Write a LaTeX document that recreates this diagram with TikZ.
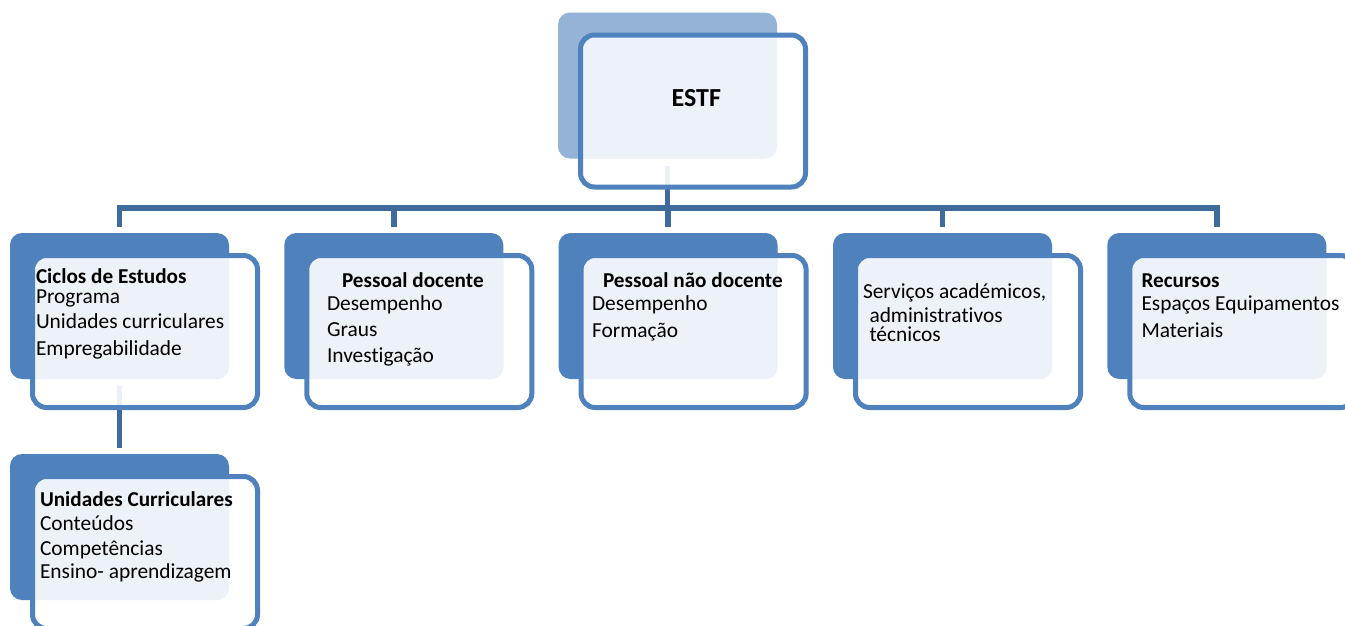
\documentclass[tikz,border=0pt]{standalone}
\usepackage{fontspec}
\setmainfont{Carlito}[Ligatures=NoCommon]
\definecolor{backblue}{HTML}{4F81BD}
\definecolor{topblue}{HTML}{95B3D7}
\definecolor{lightfill}{HTML}{EDF2F9}
\definecolor{linkblue}{HTML}{3F6A9C}
\begin{document}
\begin{tikzpicture}[x=1pt,y=-1pt,
  backbox/.style={rectangle, rounded corners=12pt, minimum width=219pt, minimum height=146pt, inner sep=0pt, outer sep=0pt, draw=none},
  frontbox/.style={rectangle, rounded corners=14pt, minimum width=225pt, minimum height=152pt, inner sep=0pt, outer sep=0pt},
  link/.style={draw=linkblue, line width=5.5pt, line join=miter},
  txt/.style={anchor=base west, inner sep=0pt, outer sep=0pt, font=\fontsize{21.4}{25}\selectfont},
  bold/.style={txt, font=\fontsize{21.2}{25}\selectfont\bfseries}
]
\useasboundingbox (0,0) rectangle (1345,625);
\fill[white] (0,0) rectangle (1345,625);

% back boxes
\node[backbox, fill=topblue]  (b0) at (558+109.5, 12.5+73) {};
\node[backbox, fill=backblue] (b1) at (10+109.5, 233+73) {};
\node[backbox, fill=backblue] (b2) at (284.3+109.5, 233+73) {};
\node[backbox, fill=backblue] (b3) at (558.6+109.5, 233+73) {};
\node[backbox, fill=backblue] (b4) at (833+109.5, 233+73) {};
\node[backbox, fill=backblue] (b5) at (1107.3+109.5, 233+73) {};
\node[backbox, fill=backblue] (b6) at (10+109.5, 454+73) {};

% connectors (behind the front frames)
\coordinate (bus) at (668, 208);
\draw[link, shorten <=6pt, shorten >=6pt] (b1.north) |- (bus) -| (b5.north);
\draw[link, shorten >=6pt] (b2.north |- bus) -- (b2.north);
\draw[link, shorten >=6pt] (b3.north |- bus) -- (b3.north);
\draw[link, shorten >=6pt] (b4.north |- bus) -- (b4.north);
\draw[link, shorten <=7pt] (b0.south) -- (b0.south |- bus);
\draw[link, shorten <=7pt, shorten >=6pt] (b1.south) -- (b6.north);

% front frames
\foreach \i/\x/\y in {0/558/12.5, 1/10/233, 2/284.3/233, 3/558.6/233, 4/833/233, 5/1107.3/233, 6/10/454}{
  \node[frontbox, fill=white, fill opacity=0.9] (f\i) at (\x+135, \y+98.5) {};
  \begin{scope}
    \clip[rounded corners=14pt] (f\i.north west) rectangle (f\i.south east);
    \fill[lightfill, rounded corners=12pt] (b\i.north west) rectangle (b\i.south east);
  \end{scope}
  \draw[backblue, line width=5pt, rounded corners=14pt] (f\i.north west) rectangle (f\i.south east);
}

% texts
\node[anchor=base west, inner sep=0pt, font=\fontsize{26}{30}\selectfont\bfseries] (t0) at (671.5,106) {ESTF};

\node[bold] (t1a) at (36,283) {Ciclos de Estudos};
\node[txt]  (t1b) at (36,303.3) {Programa};
\node[txt]  (t1c) at (36,328.3) {Unidades curriculares};
\node[txt]  (t1d) at (36,355) {Empregabilidade};

\node[bold] (t2a) at (342,287) {Pessoal docente};
\node[txt]  (t2b) at (327,310) {Desempenho};
\node[txt]  (t2c) at (327,336) {Graus};
\node[txt]  (t2d) at (327,362) {Investigação};

\node[bold] (t3a) at (603,287) {Pessoal não docente};
\node[txt]  (t3b) at (592,310) {Desempenho};
\node[txt]  (t3c) at (592,337) {Formação};

\node[txt]  (t4a) at (863,298) {Serviços académicos,};
\node[txt]  (t4b) at (869.5,322) {administrativos};
\node[txt]  (t4c) at (869.5,341) {técnicos};

\node[bold] (t5a) at (1141.5,287) {Recursos};
\node[txt]  (t5b) at (1141.5,310) {Espaços Equipamentos};
\node[txt]  (t5c) at (1141.5,337) {Materiais};

\node[bold] (t6a) at (40,506) {Unidades Curriculares};
\node[txt]  (t6b) at (40,530) {Conteúdos};
\node[txt]  (t6c) at (40,555) {Competências};
\node[txt]  (t6d) at (40,578) {Ensino- aprendizagem};
\end{tikzpicture}
\end{document}
